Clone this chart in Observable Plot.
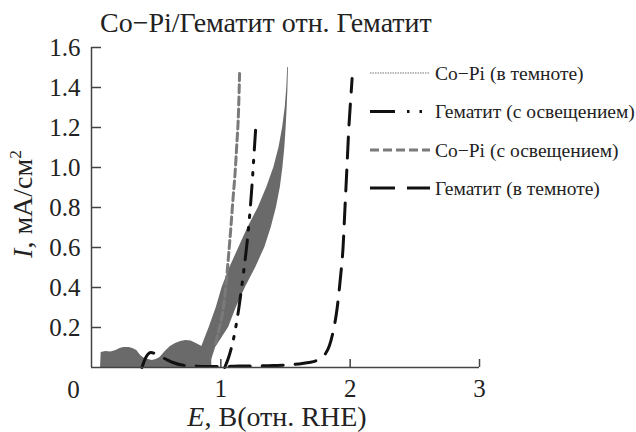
<!DOCTYPE html>
<html><head><meta charset="utf-8">
<script src="https://cdn.jsdelivr.net/npm/d3@7"></script>
<script src="https://cdn.jsdelivr.net/npm/@observablehq/plot@0.6"></script>
<style>
body{margin:0;background:#fff}
#chart svg{font-family:"Liberation Serif","Times New Roman",serif}
</style>
</head><body><div id="chart"></div>
<script>
const titleText = "Co−Pi/Гематит отн. Гематит";
const xTicks = [1, 2, 3];
const yTicks = [0.2, 0.4, 0.6, 0.8, 1.0, 1.2, 1.4, 1.6];
const seriesNames = ["Co−Pi (в темноте)", "Гематит (с освещением)", "Co−Pi (с освещением)", "Гематит (в темноте)"];

// Co-Pi in dark: noisy low-potential region (upper envelope)
const coPiDarkFootE = [0.07, 0.075, 0.11, 0.15, 0.19, 0.22, 0.25, 0.29, 0.32, 0.35, 0.38, 0.41, 0.44, 0.47, 0.50, 0.53, 0.57, 0.61, 0.65, 0.69, 0.73, 0.77, 0.81, 0.84, 0.87, 0.90, 0.93];
const coPiDarkFootI = [0.0, 0.075, 0.08, 0.078, 0.085, 0.095, 0.1, 0.1, 0.095, 0.085, 0.06, 0.045, 0.04, 0.035, 0.04, 0.05, 0.08, 0.105, 0.12, 0.13, 0.135, 0.132, 0.12, 0.11, 0.1, 0.09, 0.06];
// Co-Pi in dark: rising band (left / right edges at each current)
const coPiDarkBandI = [0.02, 0.1, 0.2, 0.3, 0.4, 0.5, 0.6, 0.7, 0.8, 0.9, 1.0, 1.1, 1.2, 1.3, 1.4, 1.5];
const coPiDarkBandL = [0.80, 0.85, 0.91, 0.965, 1.01, 1.07, 1.14, 1.21, 1.29, 1.355, 1.41, 1.45, 1.478, 1.498, 1.51, 1.517];
const coPiDarkBandR = [0.92, 0.96, 1.06, 1.12, 1.19, 1.27, 1.34, 1.39, 1.43, 1.46, 1.48, 1.495, 1.505, 1.513, 1.519, 1.523];
// Co-Pi illuminated
const coPiLightE = [0.96, 0.99, 1.02, 1.045, 1.065, 1.08, 1.095, 1.11, 1.122, 1.133, 1.14, 1.145];
const coPiLightI = [0.12, 0.2, 0.3, 0.45, 0.6, 0.72, 0.85, 0.97, 1.1, 1.22, 1.35, 1.47];
// Hematite illuminated
const hemLightE = [1.03, 1.06, 1.09, 1.115, 1.14, 1.165, 1.19, 1.21, 1.228, 1.242, 1.252, 1.262, 1.27];
const hemLightI = [0.0, 0.05, 0.12, 0.2, 0.3, 0.42, 0.55, 0.67, 0.8, 0.92, 1.02, 1.12, 1.2];
// Hematite dark
const hemDarkE = [0.39, 0.42, 0.46, 0.52, 0.58, 0.63, 0.70, 0.78, 0.9, 1.0, 1.1, 1.2, 1.3, 1.4, 1.5, 1.6, 1.68, 1.74, 1.78, 1.81, 1.84, 1.865, 1.9, 1.925, 1.945, 1.96, 1.975, 1.99, 2.005, 2.015];
const hemDarkI = [0.0, 0.05, 0.075, 0.06, 0.04, 0.025, 0.012, 0.008, 0.005, 0.005, 0.006, 0.008, 0.008, 0.01, 0.012, 0.018, 0.025, 0.035, 0.05, 0.07, 0.11, 0.17, 0.3, 0.45, 0.6, 0.8, 1.0, 1.2, 1.35, 1.445];

const zip = (xs, ys) => xs.map((x, i) => ({x, y: ys[i]}));
const foot = zip(coPiDarkFootE, coPiDarkFootI);
const band = coPiDarkBandI.map((y, i) => ({y, x1: coPiDarkBandL[i], x2: coPiDarkBandR[i]}));
const coPiLight = zip(coPiLightE, coPiLightI);
const hemLight = zip(hemLightE, hemLightI);
const hemDark = zip(hemDarkE, hemDarkI);

const tickFont = 25, labelFont = 28;
const bandColor = "#6a6a6a";

const plot = Plot.plot({
  width: 636, height: 432,
  marginLeft: 91, marginRight: 157, marginTop: 47, marginBottom: 65,
  style: {fontFamily: '"Liberation Serif","Times New Roman",serif', fontSize: tickFont + "px", color: "#222", background: "#fff"},
  x: {domain: [0, 3]},
  y: {domain: [0, 1.6]},
  marks: [
    Plot.areaY(foot, {x: "x", y1: 0, y2: "y", fill: bandColor}),
    Plot.areaX(band, {y: "y", x1: "x1", x2: "x2", fill: bandColor}),
    Plot.line(hemDark, {x: "x", y: "y", stroke: "#111", strokeWidth: 3, strokeDasharray: "21,12", curve: "monotone-x"}),
    Plot.line(hemLight, {x: "x", y: "y", stroke: "#111", strokeWidth: 3, strokeDasharray: "20,10,2.5,10,2.5,10", curve: "natural"}),
    Plot.line(coPiLight, {x: "x", y: "y", stroke: "#7a7a7a", strokeWidth: 3, strokeDasharray: "8,4", curve: "natural"}),
    Plot.ruleY([0], {stroke: "#444", strokeWidth: 1.5}),
    Plot.ruleX([0], {stroke: "#444", strokeWidth: 1.5}),
    Plot.axisY(yTicks, {tickSize: 10, dx: 10, text: null, label: null, stroke: "#444", strokeWidth: 1.5}),
    Plot.axisY(yTicks, {tickSize: 0, tickPadding: 11, tickFormat: d3.format(".1f"), label: null, fontSize: tickFont, fill: "#222"}),
    Plot.axisX(xTicks, {tickSize: 8, dy: -8, text: null, label: null, stroke: "#444", strokeWidth: 1.5}),
    Plot.axisX(xTicks, {tickSize: 0, tickPadding: 12, tickFormat: d3.format("d"), label: null, fontSize: tickFont, fill: "#222"}),
    Plot.text([0], {x: d => d, y: 0, text: d => String(d), dx: -18, dy: 22, fontSize: tickFont, fill: "#222"})
  ]
});
document.getElementById("chart").append(plot);

const svg = d3.select(plot);
// title
svg.append("text").attr("x", 100).attr("y", 32).attr("text-anchor", "start").attr("font-size", labelFont).attr("fill", "#222").text(titleText);
// x label
const xl = svg.append("text").attr("x", 277).attr("y", 426).attr("text-anchor", "middle").attr("font-size", labelFont).attr("fill", "#222");
xl.append("tspan").attr("font-style", "italic").text("E");
xl.append("tspan").text(", В(отн. RHE)");
// y label
const yl = svg.append("text").attr("transform", "translate(32,204) rotate(-90)").attr("text-anchor", "middle").attr("font-size", labelFont).attr("fill", "#222");
yl.append("tspan").attr("font-style", "italic").text("I");
yl.append("tspan").text(", мА/см");
yl.append("tspan").attr("font-size", labelFont * 0.62).attr("dy", -11).text("2");

// legend
const legendRows = [73, 111.5, 150, 188];
const legendStyles = [
  {stroke: "#b8b8b8", width: 2, dash: "1.5,1"},
  {stroke: "#111", width: 3, dash: "25,12,2.5,10,2.5,20"},
  {stroke: "#7a7a7a", width: 3, dash: "9,4"},
  {stroke: "#111", width: 3, dash: "25,12"}
];
const lg = svg.append("g");
seriesNames.forEach((name, i) => {
  const y = legendRows[i], s = legendStyles[i];
  const ln = lg.append("line").attr("x1", 370).attr("x2", 430).attr("y1", y).attr("y2", y)
    .attr("stroke", s.stroke).attr("stroke-width", s.width);
  if (s.dash) ln.attr("stroke-dasharray", s.dash);
  lg.append("text").attr("x", 435).attr("y", y + 6.5).attr("text-anchor", "start").attr("font-size", 19.5).attr("fill", "#222").text(name);
});
</script>
</body></html>
